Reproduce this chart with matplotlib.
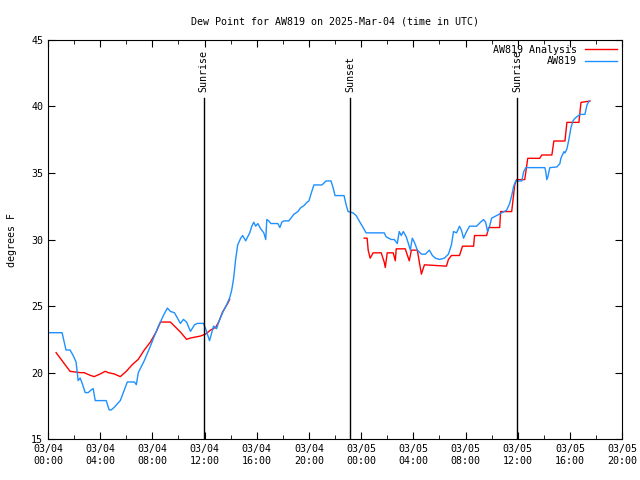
import numpy as np
import matplotlib
matplotlib.use('Agg')
import matplotlib.pyplot as plt
from matplotlib.ticker import MultipleLocator

# hours since 2025-03-04 00:00 UTC
obs_hours = [0.08, 1.08, 1.38, 1.69, 1.92, 2.15, 2.31, 2.46, 2.62, 2.85, 3.08, 3.31, 3.46, 3.62,
             4.46, 4.69, 4.85, 5.08, 5.54, 5.85, 6.08, 6.62, 6.77, 6.92, 7.38, 7.85, 8.38, 8.85,
             9.15, 9.38, 9.69, 9.92, 10.15, 10.38, 10.62, 10.92, 11.23, 11.46, 11.92, 12.08,
             12.38, 12.69, 12.92, 13.08, 13.38, 13.69, 13.92, 14.08, 14.23, 14.38, 14.54, 14.77,
             14.92, 15.15, 15.46, 15.62, 15.77, 15.92, 16.08, 16.31, 16.54, 16.69, 16.77, 16.92,
             17.08, 17.62, 17.77, 17.92, 18.08, 18.46, 18.85, 19.15, 19.38, 19.62, 19.85, 20.0,
             20.15, 20.38, 21.0, 21.31, 21.69, 21.85, 22.0, 22.69, 22.85, 23.0, 23.38, 23.62,
             23.85, 24.15, 24.38, 25.77, 25.92, 26.31, 26.54, 26.77, 26.92, 27.08, 27.23, 27.46,
             27.62, 27.77, 27.92, 28.08, 28.31, 28.62, 28.92, 29.23, 29.46, 29.69, 30.0, 30.38,
             30.69, 30.92, 31.08, 31.31, 31.54, 31.69, 31.85, 32.08, 32.31, 32.85, 33.15, 33.38,
             33.54, 33.69, 33.85, 34.0, 34.38, 34.77, 35.15, 35.38, 35.54, 35.69, 35.85, 36.31,
             36.46, 36.62, 37.08, 38.08, 38.15, 38.23, 38.31, 38.46, 39.0, 39.23, 39.31, 39.54,
             39.62, 39.77, 39.92, 40.08, 40.23, 40.38, 40.77, 41.15, 41.31, 41.46]
obs_vals = [23.0, 23.0, 21.7, 21.7, 21.3, 20.8, 19.4, 19.6, 19.2, 18.5, 18.5, 18.7, 18.8, 17.9,
            17.9, 17.2, 17.2, 17.4, 17.9, 18.7, 19.3, 19.3, 19.1, 20.0, 20.9, 22.0, 23.3, 24.3,
            24.85, 24.6, 24.5, 24.1, 23.7, 24.0, 23.8, 23.1, 23.6, 23.7, 23.7, 23.3,
            22.4, 23.5, 23.3, 23.8, 24.5, 25.1, 25.6, 26.2, 27.1, 28.5, 29.6, 30.1,
            30.3, 29.9, 30.5, 31.0, 31.3, 31.0, 31.2, 30.8, 30.5, 30.0, 31.5, 31.4,
            31.2, 31.2, 30.9, 31.3, 31.4, 31.4, 31.9, 32.1, 32.4, 32.55, 32.8, 32.9,
            33.4, 34.1, 34.1, 34.4, 34.4, 33.9, 33.3, 33.3, 32.6, 32.1, 32.0, 31.8,
            31.4, 30.9, 30.5, 30.5, 30.2, 30.0, 30.0, 29.7, 30.6, 30.3, 30.6, 30.2,
            29.7, 29.2, 30.1, 29.8, 29.2, 28.9, 28.9, 29.2, 28.8, 28.6, 28.5, 28.6,
            28.9, 29.6, 30.6, 30.5, 31.0, 30.7, 30.1, 30.6, 31.0, 31.0, 31.3, 31.5,
            31.3, 30.6, 31.0, 31.6, 31.8, 32.0, 32.2, 32.7, 33.3, 34.0, 34.4, 34.4,
            35.1, 35.4, 35.4, 35.4, 35.1, 34.5, 34.7, 35.4, 35.45, 35.7, 36.1, 36.6,
            36.5, 36.8, 37.5, 38.4, 38.9, 39.1, 39.4, 39.4, 40.1, 40.4]

ana_hours = [0.62, 1.08, 1.38, 1.69, 2.46, 2.77, 3.23, 3.54, 4.0, 4.38, 4.62, 5.08, 5.54, 6.0,
             6.46, 6.92, 7.38, 7.85, 8.31, 8.62, 9.38, 9.69, 10.15, 10.62, 10.92, 11.69, 12.08,
             12.46, 12.85, 13.08, 13.38, 13.77, 13.92, 19.0,
             24.23, 24.46, 24.54, 24.69, 24.92, 25.54, 25.77, 25.85, 26.0, 26.46, 26.62, 26.69,
             27.38, 27.69, 27.85, 28.31, 28.46, 28.62, 28.85, 30.54, 30.69, 30.92, 31.54, 31.77,
             32.62, 32.69, 33.62, 33.77, 34.62, 34.69, 35.54, 35.77, 35.92, 36.54, 36.77, 37.69,
             37.85, 38.62, 38.77, 39.62, 39.77, 40.69, 40.85, 41.54]
ana_vals = [21.5, 20.9, 20.5, 20.1, 20.0, 20.0, 19.8, 19.7, 19.9, 20.1, 20.0, 19.9, 19.7, 20.1,
            20.6, 21.0, 21.7, 22.3, 23.1, 23.8, 23.8, 23.5, 23.05, 22.5, 22.6, 22.75, 22.9,
            23.2, 23.4, 23.8, 24.55, 25.2, 25.5, np.nan,
            30.1, 30.1, 29.2, 28.6, 29.0, 29.0, 28.3, 27.9, 29.0, 29.0, 28.4, 29.3,
            29.3, 28.4, 29.2, 29.2, 28.3, 27.4, 28.1, 28.0, 28.5, 28.8, 28.8, 29.5,
            29.5, 30.3, 30.3, 30.9, 30.9, 32.1, 32.1, 34.1, 34.5, 34.5, 36.1, 36.1,
            36.35, 36.35, 37.4, 37.4, 38.8, 38.8, 40.3, 40.4]

sun_hours = [11.92, 23.15, 35.95]
sun_names = ['Sunrise', 'Sunset', 'Sunrise']

mono = 'DejaVu Sans Mono'
fs = 7.2
fig = plt.figure(figsize=(6.4, 4.8), dpi=100)
ax = fig.add_axes([0.075, 0.085, 0.897, 0.832])

ax.plot(ana_hours, ana_vals, color='#ff0000', lw=1.0, label='AW819 Analysis')
ax.plot(obs_hours, obs_vals, color='#1e90ff', lw=1.0, label='AW819')

for h, name in zip(sun_hours, sun_names):
    ax.plot([h, h], [15, 40.6], color='black', lw=1.0)
    ax.text(h, 41.1, name, rotation=90, ha='center', va='bottom', fontsize=fs, family=mono)

ax.set_xlim(0, 44)
ax.set_ylim(15, 45)
ax.xaxis.set_minor_locator(MultipleLocator(2))
ax.yaxis.set_major_locator(MultipleLocator(5))
ticks = np.arange(0, 45, 4)
ax.set_xticks(ticks)
ax.set_xticklabels(['03/%02d\n%02d:00' % (4 + t // 24, t % 24) for t in ticks], family=mono, fontsize=fs)
for lab in ax.get_yticklabels():
    lab.set_family(mono)
    lab.set_fontsize(fs)
ax.tick_params(which='both', direction='in', top=True, right=True)
ax.tick_params(which='major', length=5)
ax.tick_params(which='minor', length=3)

ax.set_title('Dew Point for AW819 on 2025-Mar-04 (time in UTC)', family=mono, fontsize=fs, pad=11)
ax.set_ylabel('degrees F', family=mono, fontsize=fs, labelpad=10)
ax.legend(loc='upper right', frameon=False, markerfirst=False, handlelength=3.2,
          prop={'family': mono, 'size': fs}, borderaxespad=0.1, labelspacing=0.15)

fig.savefig('out.png', dpi=100)
